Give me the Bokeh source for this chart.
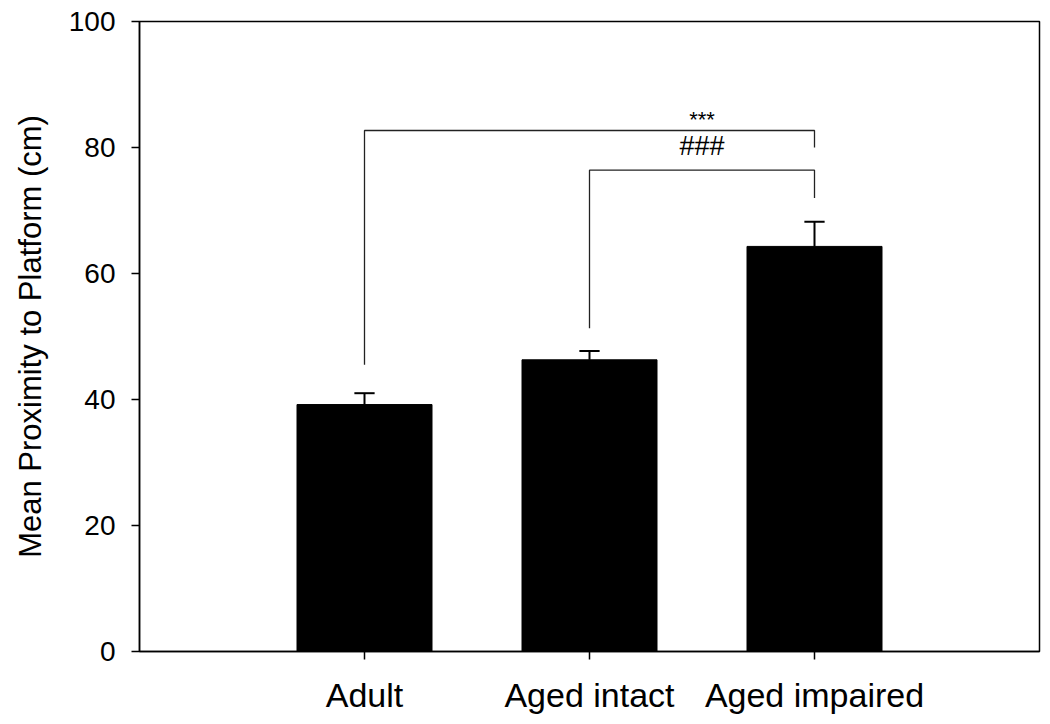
from bokeh.plotting import figure
from bokeh.models import Range1d, FixedTicker, Label
from bokeh.embed import file_html
from bokeh.resources import INLINE

groups = ["Adult", "Aged intact", "Aged impaired"]
means = [39.2, 46.3, 64.3]
sems = [1.8, 1.4, 3.9]

# significance brackets: (left group idx, right group idx)
br_left = [0, 1]
br_right = [2, 2]
br_level = [82.7, 76.4]
br_left_end = [45.5, 51.3]
br_right_end = [80.0, 72.0]
br_text = ["***", "###"]
br_text_x = [2.5, 2.5]
br_text_y = [84.4, 80.2]
br_text_size = ["22px", "27px"]

FONT = "Liberation Sans"

xs = [i + 1 for i in range(len(groups))]

p = figure(width=1042, height=716, output_backend="svg", toolbar_location=None,
           x_range=Range1d(0, 4), y_range=Range1d(0, 100),
           min_border_left=139, min_border_top=21, min_border_right=3, min_border_bottom=64)
p.background_fill_color = "white"
p.border_fill_color = "white"
p.outline_line_color = "black"
p.outline_line_width = 1.5
p.xgrid.visible = False
p.ygrid.visible = False

# bars
p.vbar(x=xs, top=means, width=0.6, bottom=0, fill_color="black", line_color="black")

# error bars (upper only)
tops = [m + s for m, s in zip(means, sems)]
p.segment(x0=xs, y0=means, x1=xs, y1=tops, line_color="black", line_width=2)
p.segment(x0=[x - 0.045 for x in xs], y0=tops, x1=[x + 0.045 for x in xs], y1=tops,
          line_color="black", line_width=2)

# brackets
for li, ri, lev, le, re, t, tx, ty, ts in zip(br_left, br_right, br_level, br_left_end,
                                             br_right_end, br_text, br_text_x, br_text_y,
                                             br_text_size):
    xl, xr = xs[li], xs[ri]
    p.line(x=[xl, xl, xr, xr], y=[le, lev, lev, re], line_color="#222222", line_width=1.3)
    p.add_layout(Label(x=tx, y=ty, text=t, text_font=FONT, text_font_size=ts,
                       text_align="center", text_baseline="middle", text_color="black"))

# axes
p.xaxis.ticker = FixedTicker(ticks=xs)
p.xaxis.major_label_overrides = {x: g for x, g in zip(xs, groups)}
p.xaxis.minor_tick_line_color = None
p.xaxis.major_tick_in = 0
p.xaxis.major_tick_out = 8
p.xaxis.major_label_text_font = FONT
p.xaxis.major_label_text_font_size = "34px"
p.xaxis.major_label_text_color = "black"
p.xaxis.major_label_standoff = 16
p.xaxis.axis_line_width = 1.5
p.xaxis.major_tick_line_width = 1.5

p.yaxis.ticker = FixedTicker(ticks=[0, 20, 40, 60, 80, 100])
p.yaxis.minor_tick_line_color = None
p.yaxis.major_tick_in = 0
p.yaxis.major_tick_out = 8
p.yaxis.major_label_text_font = FONT
p.yaxis.major_label_text_font_size = "28px"
p.yaxis.major_label_text_color = "black"
p.yaxis.major_label_standoff = 16
p.yaxis.axis_line_width = 1.5
p.yaxis.major_tick_line_width = 1.5
p.yaxis.axis_label = "Mean Proximity to Platform (cm)"
p.yaxis.axis_label_text_font = FONT
p.yaxis.axis_label_text_font_size = "31px"
p.yaxis.axis_label_text_font_style = "normal"
p.yaxis.axis_label_text_color = "black"
p.yaxis.axis_label_standoff = 18

open("out.html", "w").write(file_html(p, INLINE))
